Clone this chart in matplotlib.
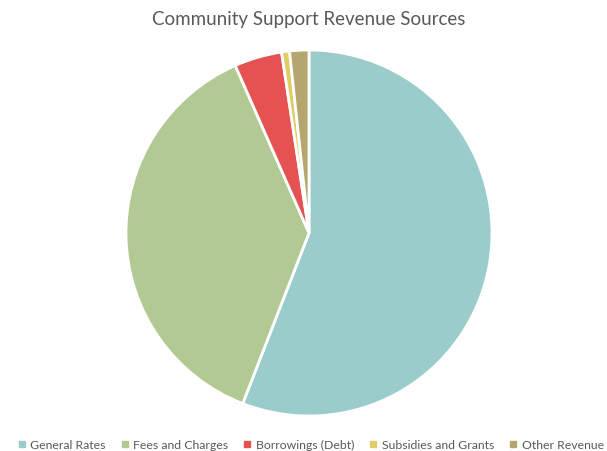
import matplotlib
matplotlib.use("Agg")
import matplotlib.pyplot as plt
from matplotlib.lines import Line2D

# Revenue share by source (%)
sources = ["General Rates", "Fees and Charges", "Borrowings (Debt)",
           "Subsidies and Grants", "Other Revenue"]
shares = [55.9, 37.5, 4.2, 0.7, 1.7]
colours = ["#99CCCA", "#B2C993", "#E55252", "#E0CC66", "#B5A56E"]

plt.rcParams["font.family"] = ["Lato", "DejaVu Sans"]

W, H = 607, 451
fig = plt.figure(figsize=(W / 100, H / 100), dpi=100)

# pie placed by pixel centre / radius
cx, cy, r = 309, 233, 183
ax = fig.add_axes([(cx - r) / W, (H - cy - r) / H, 2 * r / W, 2 * r / H])
ax.pie(shares, colors=colours, startangle=90, counterclock=False,
       wedgeprops=dict(edgecolor="white", linewidth=2))
ax.set_xlim(-1, 1)
ax.set_ylim(-1, 1)
ax.set_aspect("equal")

fig.text(309 / W, 1 - 20 / H, "Community Support Revenue Sources",
         ha="center", va="center", fontsize=13.5, color="#595959")

handles = [Line2D([], [], marker="s", linestyle="none", markersize=4,
                  markerfacecolor=c, markeredgecolor=c) for c in colours]
fig.legend(handles, sources, loc="center", bbox_to_anchor=(311 / W, 1 - 445 / H),
           ncol=5, frameon=False, fontsize=8.8, labelcolor="#595959",
           handlelength=0.6, handletextpad=0.4, columnspacing=1.25)

fig.savefig("out.png", dpi=100, facecolor="white")
plt.close(fig)
